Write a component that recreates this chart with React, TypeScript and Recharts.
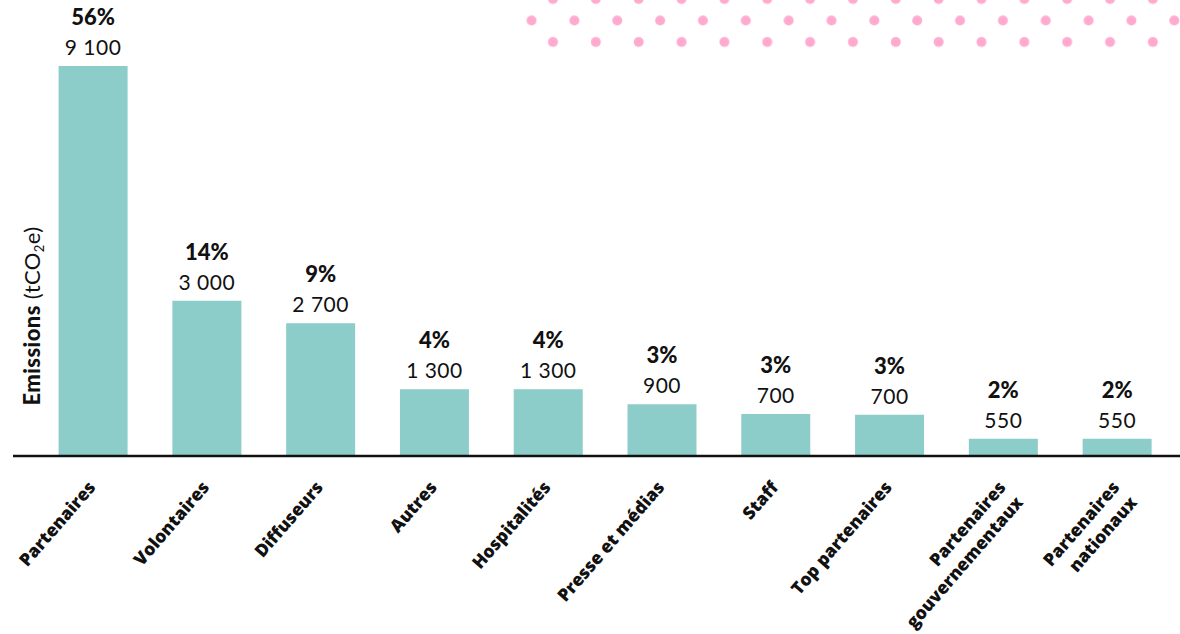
import React from "react";
import { BarChart, Bar, XAxis, YAxis } from "recharts";

const categories = [
  "Partenaires",
  "Volontaires",
  "Diffuseurs",
  "Autres",
  "Hospitalités",
  "Presse et médias",
  "Staff",
  "Top partenaires",
  "Partenaires\ngouvernementaux",
  "Partenaires\nnationaux",
];
const percentLabels = ["56%", "14%", "9%", "4%", "4%", "3%", "3%", "3%", "2%", "2%"];
const valueLabels = ["9 100", "3 000", "2 700", "1 300", "1 300", "900", "700", "700", "550", "550"];
// bar lengths as drawn in the picture (same unit as the labels)
const barValues = [9100, 3620, 3100, 1560, 1560, 1210, 980, 960, 400, 400];

const data = categories.map((c, i) => ({
  name: c,
  value: barValues[i],
  pct: percentLabels[i],
  label: valueLabels[i],
}));

const BAR_COLOR = "#8ccdca";
const DOT_COLOR = "#ffabcf";

const TopLabel = (props: any) => {
  const { x, y, width, index } = props;
  const cx = x + width / 2;
  return (
    <g>
      <text
        x={cx}
        y={y - 41}
        textAnchor="middle"
        fontFamily="Lato"
        fontWeight={900}
        fontSize={22}
        fill="#111"
      >
        {percentLabels[index]}
      </text>
      <text
        x={cx}
        y={y - 11}
        textAnchor="middle"
        fontFamily="Lato"
        fontWeight={400}
        fontSize={21}
        letterSpacing={0.5}
        fill="#111"
      >
        {valueLabels[index]}
      </text>
    </g>
  );
};

const Tick = (props: any) => {
  const { x, y, payload } = props;
  const lines = String(payload.value).split("\n");
  return (
    <g transform={`translate(${x + 3},${y + 24}) rotate(-49)`}>
      <text
        textAnchor="end"
        fontFamily="Open Sans"
        fontWeight={800}
        fontSize={17.5}
        fill="#111"
      >
        {lines.map((l, i) => (
          <tspan key={i} x={0} dy={i === 0 ? 0 : 23}>
            {l}
          </tspan>
        ))}
      </text>
    </g>
  );
};

export default function App() {
  return (
    <div
      style={{
        position: "absolute",
        left: 0,
        top: 0,
        width: 1180,
        height: 634,
        background: "#fff",
        overflow: "hidden",
      }}
    >
      <svg
        width={1180}
        height={60}
        style={{ position: "absolute", left: 0, top: 0 }}
      >
        <defs>
          <pattern
            id="dots"
            patternUnits="userSpaceOnUse"
            x={542.3}
            y={-11.75}
            width={42.85}
            height={43}
          >
            <circle cx={10.7} cy={10.75} r={5} fill={DOT_COLOR} />
            <circle cx={32.1} cy={32.25} r={5} fill={DOT_COLOR} />
          </pattern>
        </defs>
        <rect x={522} y={0} width={658} height={52} fill="url(#dots)" />
      </svg>
      <div style={{ position: "absolute", left: 0, top: 0 }}>
        <BarChart
          width={1180}
          height={634}
          data={data}
          margin={{ top: 66, right: 0, bottom: 0, left: 13 }}
          barSize={69}
        >
          <YAxis hide domain={[0, 9100]} />
          <XAxis
            dataKey="name"
            height={178}
            interval={0}
            padding={{ left: 23.6, right: 5.6 }}
            tickLine={false}
            axisLine={{ stroke: "#111", strokeWidth: 2.5 }}
            tick={<Tick />}
          />
          <Bar
            dataKey="value"
            fill={BAR_COLOR}
            isAnimationActive={false}
            label={<TopLabel />}
          />
        </BarChart>
      </div>
      <svg
        width={70}
        height={634}
        style={{ position: "absolute", left: 0, top: 0 }}
      >
        <text
          transform="translate(40,316) rotate(-90)"
          textAnchor="middle"
          fontFamily="Lato"
          fontSize={22}
          letterSpacing={0.4}
          fill="#111"
        >
          <tspan fontWeight={900}>Emissions</tspan>
          <tspan fontWeight={400}> (tCO</tspan>
          <tspan fontWeight={400} fontSize={13} dy={4}>2</tspan>
          <tspan fontWeight={400} dy={-4}>e)</tspan>
        </text>
      </svg>
    </div>
  );
}
